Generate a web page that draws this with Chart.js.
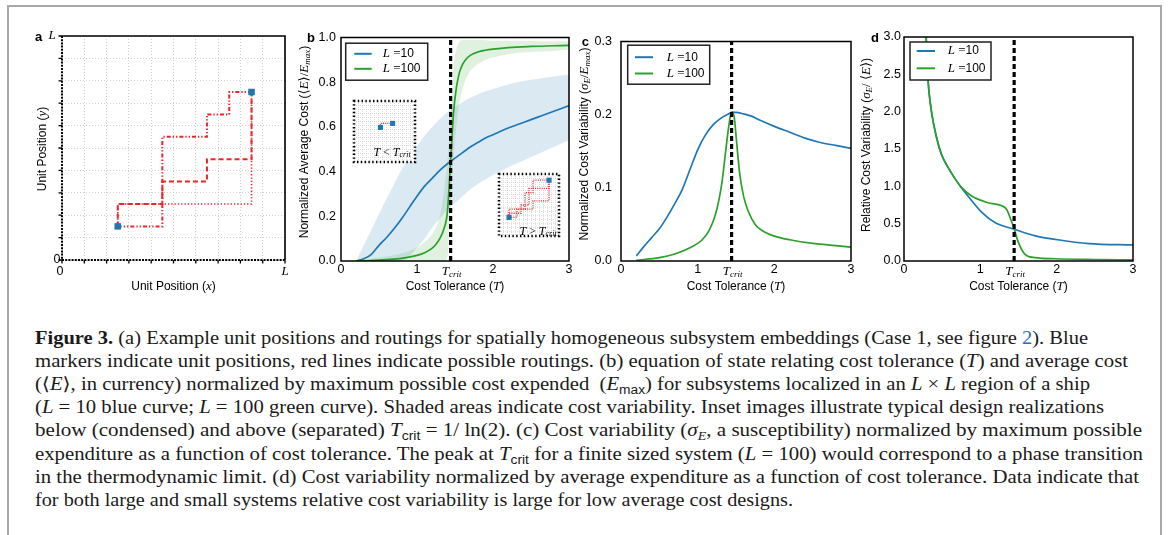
<!DOCTYPE html>
<html>
<head>
<meta charset="utf-8">
<title>Figure 3</title>
<script src="https://cdn.jsdelivr.net/npm/chart.js@4.4.1/dist/chart.umd.min.js"></script>
<style>
    html, body { margin: 0; padding: 0; background: #fff; }
    #page { position: relative; width: 1170px; height: 535px; overflow: hidden; background: #fff; }
    #frame { position: absolute; left: 7px; top: 5px; width: 1151px; height: 600px; border: 2px solid #a8a8a8; border-bottom: none; }
    canvas { position: absolute; }
    .cap { position: absolute; left: 35px; white-space: nowrap; font-family: "Liberation Serif", "DejaVu Serif", serif;
        font-size: 18px; line-height: 22px; color: #1a1a1a; transform-origin: 0 0; }
    .cap i { font-style: italic; }
    .cap .sf { font-family: "Liberation Sans", Arial, sans-serif; font-size: 12px; position: relative; top: 4px; }
    .cap .sb { font-size: 12px; position: relative; top: 4px; }
    .cap .lnk { color: #2f6db5; }
</style>
</head>
<body>
<div id="page">
    <div id="frame"></div>
    <canvas id="chartA" width="275" height="275" style="left:20px;top:25px"></canvas>
    <canvas id="chartB" width="288" height="275" style="left:292px;top:25px"></canvas>
    <canvas id="chartC" width="288" height="275" style="left:572px;top:25px"></canvas>
    <canvas id="chartD" width="290" height="275" style="left:852px;top:25px"></canvas>
    <canvas id="insetLow" width="69" height="69" style="left:350px;top:97px"></canvas>
    <canvas id="insetHigh" width="68" height="70" style="left:495px;top:170px"></canvas>

    <div class="cap" data-w="1053" style="top:327px"><b>Figure 3.</b> (a) Example unit positions and routings for spatially homogeneous subsystem embeddings (Case 1, see figure <span class="lnk">2</span>). Blue</div>
    <div class="cap" data-w="1093" style="top:350px">markers indicate unit positions, red lines indicate possible routings. (b) equation of state relating cost tolerance (<i>T</i>) and average cost</div>
    <div class="cap" data-w="1055" style="top:373px">(⟨<i>E</i>⟩, in currency) normalized by maximum possible cost expended &nbsp;(<i>E</i><span class="sf">max</span>) for subsystems localized in an <i>L</i> × <i>L</i> region of a ship</div>
    <div class="cap" data-w="1069" style="top:396px">(<i>L</i> = 10 blue curve; <i>L</i> = 100 green curve). Shaded areas indicate cost variability. Inset images illustrate typical design realizations</div>
    <div class="cap" data-w="1107" style="top:419px">below (condensed) and above (separated) <i>T</i><span class="sf">crit</span> = 1/ ln(2). (c) Cost variability (<i>σ<span class="sb">E</span></i>, a susceptibility) normalized by maximum possible</div>
    <div class="cap" data-w="1108" style="top:443px">expenditure as a function of cost tolerance. The peak at <i>T</i><span class="sf">crit</span> for a finite sized system (<i>L</i> = 100) would correspond to a phase transition</div>
    <div class="cap" data-w="1104" style="top:466px">in the thermodynamic limit. (d) Cost variability normalized by average expenditure as a function of cost tolerance. Data indicate that</div>
    <div class="cap" data-w="758" style="top:489px">for both large and small systems relative cost variability is large for low average cost designs.</div>
</div>

<script>
/** critical cost tolerance, 1/ln(2) */
var tcrit = 1.4427

/** a: unit positions and possible routings (grid units, L = 10) */
var unitX = [2.5, 8.5]
var unitY = [1.5, 7.5]
var routeDashX = [2.5, 2.5, 4.5, 4.5, 6.5, 6.5, 8.5, 8.5]
var routeDashY = [1.5, 2.5, 2.5, 3.5, 3.5, 4.5, 4.5, 7.5]
var routeDotX = [2.5, 2.5, 8.5, 8.5]
var routeDotY = [1.5, 2.5, 2.5, 7.5]
var routeDashDotX = [2.5, 4.5, 4.5, 6.5, 6.5, 7.5, 7.5, 8.5]
var routeDashDotY = [1.5, 1.5, 5.5, 5.5, 6.5, 6.5, 7.5, 7.5]

/** b: average cost vs tolerance */
var tolL10 = [0.2, 0.3, 0.4, 0.5, 0.6, 0.7, 0.8, 0.9, 1.0, 1.1, 1.2, 1.3, 1.4, 1.5, 1.6, 1.7, 1.8, 1.9, 2.0, 2.2, 2.4, 2.6, 2.8, 3.0]
var avgL10 = [0.0, 0.01, 0.03, 0.07, 0.105, 0.145, 0.19, 0.24, 0.29, 0.335, 0.37, 0.405, 0.435, 0.46, 0.485, 0.51, 0.53, 0.55, 0.565, 0.595, 0.62, 0.645, 0.67, 0.695]
var avgL10Hi = [0.0, 0.07, 0.14, 0.21, 0.28, 0.345, 0.41, 0.465, 0.515, 0.56, 0.6, 0.635, 0.665, 0.69, 0.71, 0.73, 0.745, 0.76, 0.77, 0.79, 0.805, 0.815, 0.825, 0.835]
var avgL10Lo = [0.0, 0.0, 0.0, 0.0, 0.0, 0.0, 0.0, 0.02, 0.06, 0.1, 0.15, 0.19, 0.23, 0.26, 0.29, 0.32, 0.345, 0.365, 0.385, 0.42, 0.45, 0.48, 0.51, 0.54]
var tolL100 = [0.2, 0.4, 0.6, 0.8, 1.0, 1.1, 1.2, 1.25, 1.3, 1.35, 1.4, 1.4427, 1.48, 1.52, 1.56, 1.6, 1.65, 1.7, 1.8, 1.9, 2.0, 2.2, 2.5, 2.8, 3.0]
var avgL100 = [0.0, 0.002, 0.006, 0.012, 0.025, 0.037, 0.058, 0.075, 0.1, 0.14, 0.22, 0.45, 0.66, 0.78, 0.845, 0.88, 0.905, 0.92, 0.935, 0.943, 0.948, 0.955, 0.96, 0.963, 0.965]
var avgL100Hi = [0.0, 0.01, 0.02, 0.035, 0.06, 0.085, 0.12, 0.15, 0.2, 0.3, 0.45, 0.65, 0.86, 0.95, 0.98, 0.99, 0.99, 0.99, 0.99, 0.988, 0.986, 0.985, 0.984, 0.983, 0.983]
var avgL100Lo = [0.0, 0.0, 0.0, 0.0, 0.0, 0.0, 0.0, 0.0, 0.0, 0.0, 0.02, 0.25, 0.46, 0.61, 0.71, 0.77, 0.82, 0.85, 0.88, 0.9, 0.91, 0.925, 0.935, 0.94, 0.945]

/** c: cost variability */
var tolSigL10 = [0.2, 0.3, 0.4, 0.5, 0.6, 0.7, 0.8, 0.9, 1.0, 1.1, 1.2, 1.3, 1.4, 1.45, 1.5, 1.6, 1.7, 1.8, 2.0, 2.2, 2.4, 2.6, 2.8, 3.0]
var sigL10 = [0.007, 0.02, 0.032, 0.044, 0.06, 0.078, 0.098, 0.125, 0.152, 0.172, 0.186, 0.195, 0.201, 0.203, 0.203, 0.201, 0.198, 0.193, 0.184, 0.176, 0.168, 0.162, 0.158, 0.154]
var tolSigL100 = [0.2, 0.5, 0.7, 0.9, 1.05, 1.15, 1.23, 1.28, 1.32, 1.36, 1.4, 1.43, 1.455, 1.48, 1.51, 1.55, 1.6, 1.66, 1.75, 1.85, 2.0, 2.2, 2.5, 2.8, 3.0]
var sigL100 = [0.001, 0.0045, 0.0095, 0.018, 0.028, 0.042, 0.063, 0.085, 0.11, 0.145, 0.18, 0.2, 0.204, 0.194, 0.16, 0.118, 0.088, 0.068, 0.05, 0.041, 0.034, 0.029, 0.024, 0.021, 0.019]

/** d: relative cost variability */
var tolRelL10 = [0.26, 0.29, 0.315, 0.36, 0.425, 0.49, 0.58, 0.67, 0.75, 0.885, 1.02, 1.19, 1.445, 1.72, 1.98, 2.42, 3.0]
var relL10 = [3.4, 3.0, 2.42, 2.0, 1.66, 1.43, 1.25, 1.1, 0.985, 0.81, 0.65, 0.515, 0.425, 0.336, 0.29, 0.233, 0.215]
var tolRelL100 = [0.26, 0.29, 0.315, 0.36, 0.425, 0.49, 0.58, 0.67, 0.75, 0.885, 1.1, 1.28, 1.345, 1.39, 1.445, 1.5, 1.585, 1.72, 1.98, 2.5, 3.0]
var relL100 = [3.4, 3.0, 2.42, 2.0, 1.66, 1.43, 1.25, 1.1, 0.99, 0.87, 0.78, 0.74, 0.69, 0.58, 0.425, 0.246, 0.09, 0.045, 0.03, 0.02, 0.015]

/** insets of b (grid units, 15 x 15) */
var lowUnitX = [6.5, 9.5]
var lowUnitY = [8.5, 9.5]
var lowRouteX = [6.5, 6.5, 9.5]
var lowRouteY = [8.5, 9.5, 9.5]
var highUnitX = [2.5, 12.5]
var highUnitY = [4.5, 13.5]
var highRoute1X = [2.5, 2.5, 5.5, 5.5, 7.5, 7.5, 12.5, 12.5]
var highRoute1Y = [4.5, 5.5, 5.5, 7.5, 7.5, 11.5, 11.5, 13.5]
var highRoute2X = [2.5, 4.5, 4.5, 8.5, 8.5, 12.5, 12.5]
var highRoute2Y = [4.5, 4.5, 6.5, 6.5, 8.5, 8.5, 13.5]
var highRoute3X = [2.5, 2.5, 6.5, 6.5, 8.5, 8.5, 12.5]
var highRoute3Y = [4.5, 6.5, 6.5, 10.5, 10.5, 13.5, 13.5]

var legendLabels = ['10', '100']

var blue = '#1f77b4'
var green = '#2ca02c'
var red = '#e8262b'
var fontSans = '"Liberation Sans", Arial, sans-serif'
var fontMath = '"Liberation Serif", "DejaVu Serif", serif'
var fonts = {
    s: '12px ' + fontSans,
    m: 'italic 13px ' + fontMath,
    mu: '13px ' + fontMath,
    sub: 'italic 9px ' + fontMath,
    tick: '12.5px ' + fontSans,
    letter: 'bold 13px ' + fontSans,
    im: 'italic 12px ' + fontMath,
    imu: '12px ' + fontMath,
    isub: 'italic 8px ' + fontMath
}

/** per canvas decoration settings, read by the plugin */
var decoConf = {}

var figure = {
    init: function () {
        Chart.defaults.font.family = fontSans
        Chart.defaults.color = '#000'
        Chart.register(figure.decoPlugin)
        figure.funcs.drawA()
        figure.funcs.drawB()
        figure.funcs.drawC()
        figure.funcs.drawD()
        figure.funcs.drawInsets()
        figure.funcs.fitCaption()
    },
    decoPlugin: {
        id: 'deco',
        beforeDraw: function (chart) {
            var conf = decoConf[chart.canvas.id]
            if (!conf || !conf.inset) return
            var a = chart.chartArea
            var ctx = chart.ctx
            ctx.save()
            ctx.fillStyle = '#fff'
            ctx.fillRect(a.left, a.top, a.right - a.left, a.bottom - a.top)
            ctx.restore()
        },
        afterDraw: function (chart) {
            var conf = decoConf[chart.canvas.id]
            if (!conf) return
            var ctx = chart.ctx
            var a = chart.chartArea
            var f = figure.funcs
            ctx.save()
            ctx.strokeStyle = '#000'
            ctx.fillStyle = '#000'
            if (conf.frame === 'box') {
                ctx.lineWidth = 1.5
                ctx.strokeRect(a.left, a.top, a.right - a.left, a.bottom - a.top)
            }
            if (conf.frame === 'axesA') f.axesA(ctx, chart)
            if (conf.frame === 'inset') {
                ctx.lineWidth = 2.6
                ctx.setLineDash([1.4, 2.4])
                ctx.strokeRect(a.left, a.top, a.right - a.left, a.bottom - a.top)
                ctx.setLineDash([])
            }
            if (conf.letter) {
                ctx.font = fonts.letter
                ctx.textAlign = 'left'
                ctx.textBaseline = 'middle'
                ctx.fillText(conf.letter[0], a.left + conf.letter[1], a.top + 1)
            }
            if (conf.yTitle) f.rich(ctx, conf.yTitle, a.left + conf.yTitleDx, conf.yTitleCy, true)
            if (conf.xTitle) f.rich(ctx, conf.xTitle, (a.left + a.right) / 2, a.bottom + conf.xTitleDy, false)
            if (conf.tcrit) {
                f.rich(ctx, [['T', 'm'], ['crit', 'sub', 3]], chart.scales.x.getPixelForValue(tcrit) + 1, a.bottom + 11, false)
            }
            if (conf.legend) f.legend(ctx, a, conf.legend)
            if (conf.insetLabel) f.rich(ctx, conf.insetLabel, a.left + conf.insetPos[0], a.top + conf.insetPos[1], false)
            ctx.restore()
        }
    },
    funcs: {
        zip: function (xs, ys) {
            return xs.map(function (x, i) { return { x: x, y: ys[i] } })
        },
        /** draw text made of pieces with different fonts, centred on x,y */
        rich: function (ctx, segs, x, y, rotated) {
            ctx.save()
            ctx.translate(x, y)
            if (rotated) ctx.rotate(-Math.PI / 2)
            var total = 0
            segs.forEach(function (s) {
                ctx.font = fonts[s[1]]
                total += ctx.measureText(s[0]).width
            })
            var cx = -total / 2
            ctx.textAlign = 'left'
            ctx.textBaseline = 'middle'
            ctx.fillStyle = '#000'
            segs.forEach(function (s) {
                ctx.font = fonts[s[1]]
                ctx.fillText(s[0], cx, s[2] || 0)
                cx += ctx.measureText(s[0]).width
            })
            ctx.restore()
        },
        legend: function (ctx, a, lg) {
            var x = a.left + lg.box[0]
            var y = a.top + lg.box[1]
            ctx.fillStyle = '#fff'
            ctx.fillRect(x, y, lg.box[2], lg.box[3])
            ctx.lineWidth = 1.5
            ctx.strokeStyle = '#222'
            ctx.strokeRect(x, y, lg.box[2], lg.box[3])
            var colors = [blue, green]
            legendLabels.forEach(function (lab, i) {
                var ry = a.top + lg.rows[i]
                ctx.strokeStyle = colors[i]
                ctx.lineWidth = 2
                ctx.beginPath()
                ctx.moveTo(a.left + lg.line[0], ry)
                ctx.lineTo(a.left + lg.line[1], ry)
                ctx.stroke()
                var segs = [['L', 'm'], [' =', 'mu'], [lab, 's']]
                var w = 0
                segs.forEach(function (s) { ctx.font = fonts[s[1]]; w += ctx.measureText(s[0]).width })
                figure.funcs.rich(ctx, segs, a.left + lg.text + w / 2, ry, false)
            })
        },
        axesA: function (ctx, chart) {
            var a = chart.chartArea
            var sx = chart.scales.x
            var sy = chart.scales.y
            ctx.lineWidth = 1.6
            ctx.beginPath()
            ctx.moveTo(a.left, a.top)
            ctx.lineTo(a.right, a.top)
            ctx.lineTo(a.right, a.bottom)
            ctx.stroke()
            ctx.lineWidth = 2
            ctx.setLineDash([2, 1.2])
            ctx.beginPath()
            ctx.moveTo(a.left, a.top)
            ctx.lineTo(a.left, a.bottom)
            ctx.lineTo(a.right, a.bottom)
            ctx.stroke()
            ctx.setLineDash([])
            ctx.lineWidth = 1.3
            for (var i = 0; i <= 10; i++) {
                var px = sx.getPixelForValue(i)
                var py = sy.getPixelForValue(i)
                ctx.beginPath()
                ctx.moveTo(px, a.bottom)
                ctx.lineTo(px, a.bottom + 3.5)
                ctx.moveTo(a.left - 3.5, py)
                ctx.lineTo(a.left, py)
                ctx.stroke()
            }
            var r = figure.funcs.rich
            r(ctx, [['0', 'tick']], sx.getPixelForValue(0) - 2, a.bottom + 12, false)
            r(ctx, [['L', 'm']], sx.getPixelForValue(10), a.bottom + 12, false)
            r(ctx, [['0', 'tick']], a.left - 5, a.bottom, false)
            r(ctx, [['L', 'm']], a.left - 10, a.top, false)
        },
        valueAxis: function (min, max, step, size, pad, decimals, isY) {
            return {
                type: 'linear',
                min: min,
                max: max,
                grid: { display: false, drawTicks: false },
                border: { display: false },
                ticks: {
                    stepSize: step,
                    padding: pad,
                    autoSkip: false,
                    maxRotation: 0,
                    color: '#000',
                    font: { size: 12.5, family: fontSans },
                    callback: function (v) { return decimals ? Number(v).toFixed(decimals) : String(v) }
                },
                afterFit: function (scale) {
                    if (isY) scale.width = size
                    else scale.height = size
                }
            }
        },
        gridAxis: function (max, size, color, dash, lw) {
            return {
                type: 'linear',
                min: 0,
                max: max,
                grid: { display: true, drawTicks: false, color: color, lineWidth: lw },
                border: { display: false, dash: dash },
                ticks: { display: false, stepSize: 1 },
                afterFit: function (scale) {
                    if (scale.isHorizontal()) scale.height = size
                    else scale.width = size
                }
            }
        },
        baseOptions: function (scales, padding) {
            return {
                responsive: false,
                animation: false,
                devicePixelRatio: 1,
                events: [],
                layout: { padding: padding },
                plugins: { legend: { display: false }, tooltip: { enabled: false } },
                elements: { point: { radius: 0 } },
                scales: scales
            }
        },
        curve: function (xs, ys, color, order) {
            return {
                data: figure.funcs.zip(xs, ys),
                borderColor: color,
                borderWidth: 1.7,
                pointRadius: 0,
                fill: false,
                cubicInterpolationMode: 'monotone',
                order: order
            }
        },
        band: function (xs, ys, color, fill, order) {
            return {
                data: figure.funcs.zip(xs, ys),
                borderColor: 'rgba(0,0,0,0)',
                borderWidth: 0,
                backgroundColor: color,
                pointRadius: 0,
                fill: fill,
                cubicInterpolationMode: 'monotone',
                order: order
            }
        },
        critLine: function (ymax) {
            return {
                data: figure.funcs.zip([tcrit, tcrit], [0, ymax]),
                borderColor: '#000',
                borderWidth: 3.2,
                borderDash: [5, 3],
                borderCapStyle: 'butt',
                pointRadius: 0,
                fill: false,
                order: -1
            }
        },
        route: function (xs, ys, dash, width) {
            return {
                data: figure.funcs.zip(xs, ys),
                borderColor: red,
                borderWidth: width,
                borderDash: dash,
                borderCapStyle: 'butt',
                pointRadius: 0,
                tension: 0,
                fill: false,
                order: 2
            }
        },
        units: function (xs, ys, r) {
            return {
                data: figure.funcs.zip(xs, ys),
                showLine: false,
                pointStyle: 'rect',
                pointRadius: r,
                pointBackgroundColor: blue,
                pointBorderColor: blue,
                pointBorderWidth: 0,
                order: 0
            }
        },
        drawA: function () {
            var f = figure.funcs
            decoConf.chartA = {
                frame: 'axesA',
                letter: ['a', -27],
                yTitle: [['Unit Position (', 's'], ['y', 'm'], [')', 's']],
                yTitleDx: -19,
                yTitleCy: 124,
                xTitle: [['Unit Position (', 's'], ['x', 'm'], [')', 's']],
                xTitleDy: 27
            }
            new Chart(document.getElementById('chartA'), {
                type: 'line',
                data: {
                    datasets: [
                        f.route(routeDashX, routeDashY, [5, 3], 2),
                        f.route(routeDotX, routeDotY, [1.3, 2], 1.6),
                        f.route(routeDashDotX, routeDashDotY, [4, 2, 1.3, 2, 1.3, 2], 2),
                        f.units(unitX, unitY, 4.6)
                    ]
                },
                options: f.baseOptions({
                    x: f.gridAxis(10, 40, '#cfcfcf', [1, 2], 1),
                    y: f.gridAxis(10, 42, '#cfcfcf', [1, 2], 1)
                }, { left: 0, top: 11, right: 10, bottom: 0 })
            })
        },
        drawB: function () {
            var f = figure.funcs
            decoConf.chartB = {
                frame: 'box',
                letter: ['b', -34],
                yTitle: [['Normalized Average Cost (', 's'], ['⟨', 'mu'], ['E', 'm'], ['⟩/', 'mu'], ['E', 'm'], ['max', 'sub', 3], [')', 's']],
                yTitleDx: -36.5,
                yTitleCy: 117,
                xTitle: [['Cost Tolerance (', 's'], ['T', 'm'], [')', 's']],
                xTitleDy: 26,
                tcrit: true,
                legend: { box: [4.7, 5.7, 82, 37], line: [13.3, 30.7], text: 41.7, rows: [16.3, 31.3] }
            }
            new Chart(document.getElementById('chartB'), {
                type: 'line',
                data: {
                    datasets: [
                        f.band(tolL10, avgL10Hi, 'rgba(31,119,180,0.16)', '+1', 5),
                        f.band(tolL10, avgL10Lo, 'rgba(0,0,0,0)', false, 5),
                        f.band(tolL100, avgL100Hi, 'rgba(44,160,44,0.15)', '+1', 4),
                        f.band(tolL100, avgL100Lo, 'rgba(0,0,0,0)', false, 4),
                        f.curve(tolL10, avgL10, blue, 1),
                        f.curve(tolL100, avgL100, green, 0),
                        f.critLine(1.0)
                    ]
                },
                options: f.baseOptions({
                    x: f.valueAxis(0, 3, 1, 39, 1, 0, false),
                    y: f.valueAxis(0, 1, 0.2, 49, 5, 1, true)
                }, { left: 0, top: 12, right: 11, bottom: 0 })
            })
        },
        drawC: function () {
            var f = figure.funcs
            decoConf.chartC = {
                frame: 'box',
                letter: ['c', -39.3],
                yTitle: [['Normalized Cost Variability (', 's'], ['σ', 'm'], ['E', 'sub', 3], ['/', 'mu'], ['E', 'm'], ['max', 'sub', 3], [')', 's']],
                yTitleDx: -36,
                yTitleCy: 119,
                xTitle: [['Cost Tolerance (', 's'], ['T', 'm'], [')', 's']],
                xTitleDy: 26,
                tcrit: true,
                legend: { box: [6.7, 3.7, 82, 39], line: [14, 32], text: 45.7, rows: [15.7, 32] }
            }
            new Chart(document.getElementById('chartC'), {
                type: 'line',
                data: {
                    datasets: [
                        f.curve(tolSigL10, sigL10, blue, 1),
                        f.curve(tolSigL100, sigL100, green, 0),
                        f.critLine(0.3)
                    ]
                },
                options: f.baseOptions({
                    x: f.valueAxis(0, 3, 1, 39, 1, 0, false),
                    y: f.valueAxis(0, 0.3, 0.1, 49, 9, 1, true)
                }, { left: 0, top: 12, right: 9, bottom: 0 })
            })
        },
        drawD: function () {
            var f = figure.funcs
            decoConf.chartD = {
                frame: 'box',
                letter: ['d', -33],
                yTitle: [['Relative Cost Variability (', 's'], ['σ', 'm'], ['E', 'sub', 3], ['/ ', 'mu'], ['⟨', 'mu'], ['E', 'm'], ['⟩', 'mu'], [')', 's']],
                yTitleDx: -37,
                yTitleCy: 120,
                xTitle: [['Cost Tolerance (', 's'], ['T', 'm'], [')', 's']],
                xTitleDy: 26,
                tcrit: true,
                legend: { box: [6, 5, 81, 38], line: [12.7, 31], text: 43.7, rows: [14, 31.3] }
            }
            new Chart(document.getElementById('chartD'), {
                type: 'line',
                data: {
                    datasets: [
                        f.curve(tolRelL10, relL10, blue, 1),
                        f.curve(tolRelL100, relL100, green, 0),
                        f.critLine(3.0)
                    ]
                },
                options: f.baseOptions({
                    x: f.valueAxis(0, 3, 1, 39, 1, 0, false),
                    y: f.valueAxis(0, 3, 0.5, 52, 3, 1, true)
                }, { left: 0, top: 12, right: 9, bottom: 0 })
            })
        },
        drawInsets: function () {
            var f = figure.funcs
            decoConf.insetLow = {
                inset: true,
                frame: 'inset',
                insetLabel: [['T', 'im'], [' < ', 'imu'], ['T', 'im'], ['crit', 'isub', 2]],
                insetPos: [38, 52]
            }
            decoConf.insetHigh = {
                inset: true,
                frame: 'inset',
                insetLabel: [['T', 'im'], [' > ', 'imu'], ['T', 'im'], ['crit', 'isub', 2]],
                insetPos: [39, 58]
            }
            new Chart(document.getElementById('insetLow'), {
                type: 'line',
                data: {
                    datasets: [
                        f.route(lowRouteX, lowRouteY, [1, 1.2], 1.3),
                        f.units(lowUnitX, lowUnitY, 3.6)
                    ]
                },
                options: f.baseOptions({
                    x: f.gridAxis(15, 0, '#c4c4c4', [0.8, 1.2], 0.7),
                    y: f.gridAxis(15, 0, '#c4c4c4', [0.8, 1.2], 0.7)
                }, 3)
            })
            new Chart(document.getElementById('insetHigh'), {
                type: 'line',
                data: {
                    datasets: [
                        f.route(highRoute1X, highRoute1Y, [1, 1.2], 1.3),
                        f.route(highRoute2X, highRoute2Y, [1, 1.2], 1.3),
                        f.route(highRoute3X, highRoute3Y, [1, 1.2], 1.3),
                        f.units(highUnitX, highUnitY, 3.6)
                    ]
                },
                options: f.baseOptions({
                    x: f.gridAxis(15, 0, '#c4c4c4', [0.8, 1.2], 0.7),
                    y: f.gridAxis(15, 0, '#c4c4c4', [0.8, 1.2], 0.7)
                }, { left: 3, top: 3, right: 3, bottom: 3 })
            })
        },
        /** squeeze each caption line to the width it has in the printed figure */
        fitCaption: function () {
            var lines = document.querySelectorAll('.cap')
            lines.forEach(function (el) {
                var w = el.getBoundingClientRect().width
                var target = Number(el.getAttribute('data-w'))
                el.style.transform = 'scaleX(' + (target / w) + ')'
            })
        }
    }
}

figure.init()
</script>
</body>
</html>
